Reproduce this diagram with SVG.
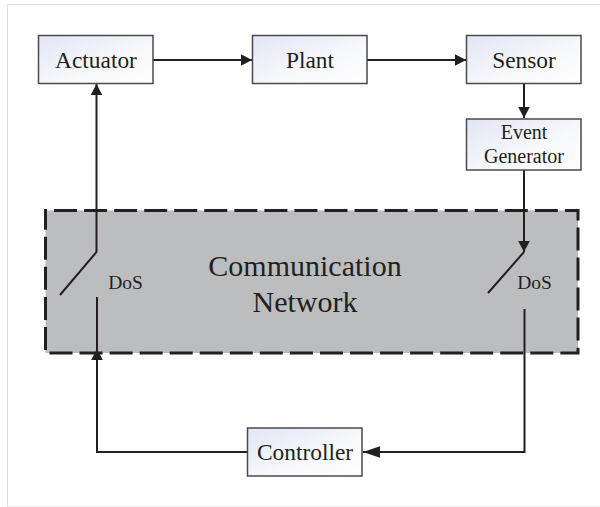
<svg xmlns="http://www.w3.org/2000/svg" width="600" height="507" viewBox="0 0 600 507">
<style>
.box{stroke:#4a4a4f;stroke-width:1.500}
.c{fill:none;stroke:#231f20;stroke-width:2}
.big{font-size:30px}
.m{font-size:23.400px}
.s{font-size:20px}
.d{font-size:19.500px}
text{font-family:"Liberation Serif","Times New Roman",serif;fill:#231f20;text-anchor:middle}
</style>
<defs>
<linearGradient id="g" x1="0" y1="0" x2="1" y2="1"><stop offset="0" stop-color="#e2e6f4"/><stop offset=".6" stop-color="#f8f9fc"/><stop offset="1" stop-color="#ffffff"/></linearGradient>
<marker id="a" markerUnits="userSpaceOnUse" markerWidth="12" markerHeight="12" refX="11" refY="6" orient="auto"><path d="M0 0.200L11 6L0 11.800Z" fill="#231f20"/></marker>
<marker id="b" markerUnits="userSpaceOnUse" markerWidth="18" markerHeight="12" refX="17" refY="6" orient="auto"><path d="M0 0.200L17 6L0 11.800Z" fill="#231f20"/></marker>
</defs>
<rect width="600" height="507" fill="#fff"/>
<path d="M7.500 507V4.500H600" fill="none" stroke="#dcdcdc" stroke-width="1"/>
<path d="M7 506.500H600" fill="none" stroke="#eeeeee" stroke-width="1"/>
<g id="network">
<rect x="45.500" y="210.500" width="532.500" height="142.500" fill="#bcbdbf" stroke="#231f20" stroke-width="3" stroke-dasharray="23 7.050" stroke-dashoffset="21.500"/>
<text class="big" x="305" y="276">Communication</text>
<text class="big" x="305" y="312">Network</text>
<text class="d" x="125.500" y="289">DoS</text>
<text class="d" x="534.500" y="289">DoS</text>
</g>
<g id="connectors">
<path class="c" d="M153 60H252" marker-end="url(#a)"/>
<path class="c" d="M367 60H466" marker-end="url(#a)"/>
<path class="c" d="M524 84V118" marker-end="url(#a)"/>
<path class="c" d="M60 295L96.500 252V84" marker-end="url(#a)"/>
<path class="c" d="M488 293L524 252"/>
<path class="c" d="M524 170V252" marker-end="url(#a)"/>
<path class="c" d="M97 297V452H247"/>
<path class="c" d="M97 400V349" marker-end="url(#a)"/>
<path class="c" d="M524.500 309V452H363" marker-end="url(#b)"/>
</g>
<g id="actuator"><rect class="box" x="38.500" y="35.500" width="114.500" height="48" fill="url(#g)"/><text class="m" x="96" y="67.500">Actuator</text></g>
<g id="plant"><rect class="box" x="252.500" y="35.500" width="114.500" height="48" fill="url(#g)"/><text class="m" x="310" y="67.500">Plant</text></g>
<g id="sensor"><rect class="box" x="466.500" y="35.500" width="114.500" height="48" fill="url(#g)"/><text class="m" x="524" y="67.500">Sensor</text></g>
<g id="event-generator"><rect class="box" x="466.500" y="119" width="114.500" height="51" fill="url(#g)"/><text class="s" x="524" y="138.500">Event</text><text class="s" x="524" y="163">Generator</text></g>
<g id="controller"><rect class="box" x="247.500" y="428" width="114.500" height="48" fill="url(#g)"/><text class="m" x="305" y="460">Controller</text></g>
</svg>
